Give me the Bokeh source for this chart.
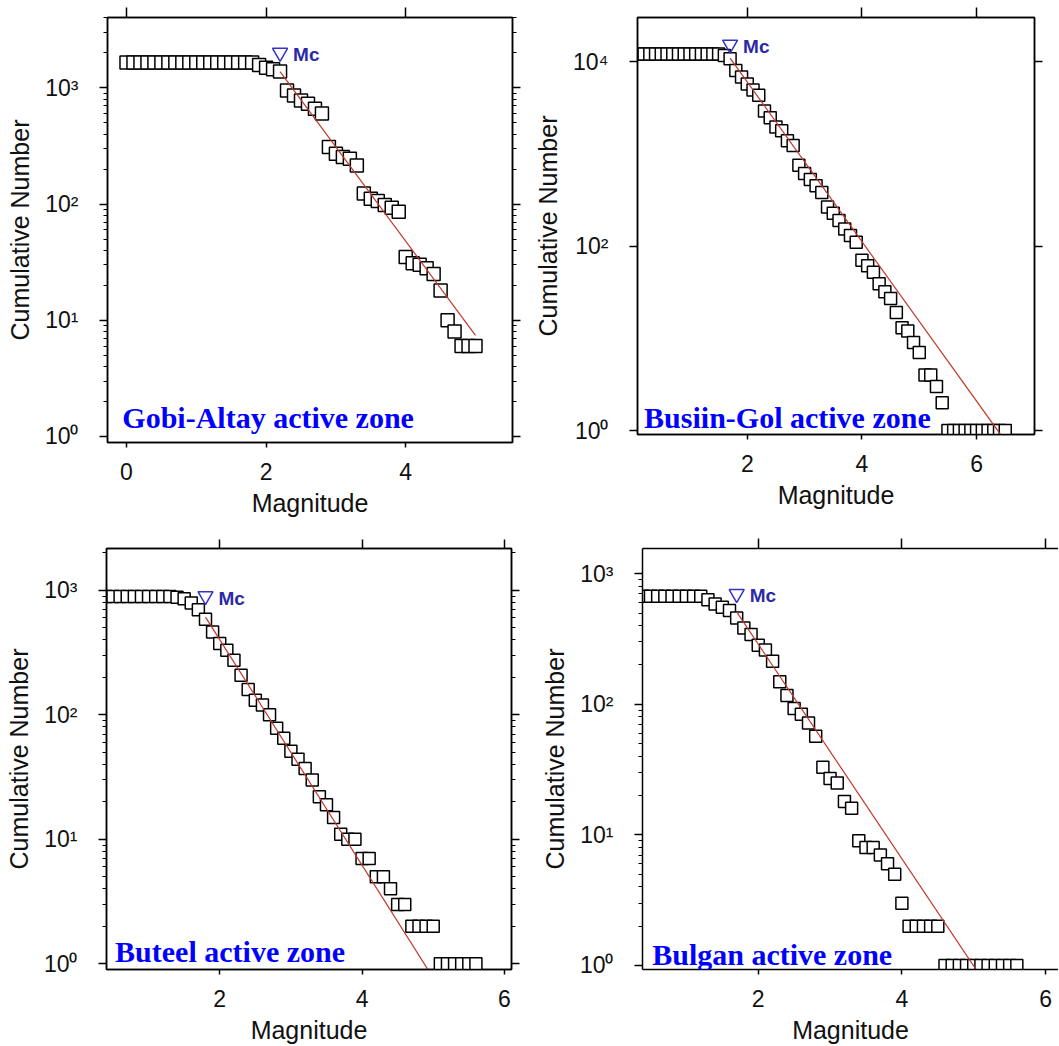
from bokeh.plotting import figure
from bokeh.models import Range1d, FixedTicker, LinearAxis, LogAxis, Label, CustomJSTickFormatter
from bokeh.layouts import column, row
from bokeh.embed import file_html
from bokeh.resources import INLINE

# ---------------- data ----------------
zone_names = ["Gobi-Altay active zone", "Busiin-Gol active zone",
              "Buteel active zone", "Bulgan active zone"]
x_label = "Magnitude"
y_label = "Cumulative Number"

mag_gobi = [0.0, 0.1, 0.2, 0.3, 0.4, 0.5, 0.6, 0.7, 0.8, 0.9, 1.0, 1.1, 1.2, 1.3, 1.4,
            1.5, 1.6, 1.7, 1.8, 1.9, 2.0, 2.1, 2.2, 2.3, 2.4, 2.5, 2.6, 2.7, 2.8, 2.9,
            3.0, 3.1, 3.2, 3.3, 3.4, 3.5, 3.6, 3.7, 3.8, 3.9, 4.0, 4.1, 4.2, 4.3, 4.4,
            4.5, 4.6, 4.7, 4.8, 4.9, 5.0]
num_gobi = [1650, 1650, 1650, 1650, 1650, 1650, 1650, 1650, 1650, 1650, 1650, 1650,
            1650, 1650, 1650, 1650, 1650, 1650, 1650, 1575, 1490, 1445, 1380, 950, 860,
            780, 730, 660, 600, 309, 271, 254, 245, 215, 123, 111, 106, 98, 93, 86, 35,
            31, 30, 28, 25, 18, 10, 8, 6, 6, 6]
mc_gobi = [2.2]
mc_mark_gobi = [2010]
fit_mag_gobi = [2.2, 5.0]
fit_num_gobi = [1380, 7.4]

mag_busiin = [0.1, 0.2, 0.3, 0.4, 0.5, 0.6, 0.7, 0.8, 0.9, 1.0, 1.1, 1.2, 1.3, 1.4, 1.5,
              1.6, 1.7, 1.8, 1.9, 2.0, 2.1, 2.2, 2.3, 2.4, 2.5, 2.6, 2.7, 2.8, 2.9, 3.0,
              3.1, 3.2, 3.3, 3.4, 3.5, 3.6, 3.7, 3.8, 3.9, 4.0, 4.1, 4.2, 4.3, 4.4, 4.5,
              4.6, 4.7, 4.8, 4.9, 5.0, 5.1, 5.2, 5.3, 5.4, 5.5, 5.6, 5.7, 5.8, 5.9, 6.0,
              6.1, 6.2, 6.3, 6.4, 6.5]
num_busiin = [12100, 12100, 12100, 12100, 12100, 12100, 12100, 12100, 12100, 12100,
              12100, 12100, 12100, 12100, 12100, 11600, 10700, 8000, 6800, 5700, 4900,
              4300, 2900, 2450, 1950, 1780, 1380, 1230, 750, 610, 525, 450, 380, 264,
              227, 189, 153, 130, 110, 70, 61, 52, 39, 32, 27, 19, 13, 12, 9, 7, 4, 4,
              3, 2, 1, 1, 1, 1, 1, 1, 1, 1, 1, 1, 1]
mc_busiin = [1.7]
mc_mark_busiin = [15300]
fit_mag_busiin = [1.7, 6.42]
fit_num_busiin = [10900, 0.9]

mag_buteel = [0.4, 0.5, 0.6, 0.7, 0.8, 0.9, 1.0, 1.1, 1.2, 1.3, 1.4, 1.5, 1.6, 1.7, 1.8,
              1.9, 2.0, 2.1, 2.2, 2.3, 2.4, 2.5, 2.6, 2.7, 2.8, 2.9, 3.0, 3.1, 3.2, 3.3,
              3.4, 3.5, 3.6, 3.7, 3.8, 3.9, 4.0, 4.1, 4.2, 4.3, 4.4, 4.5, 4.6, 4.7, 4.8,
              4.9, 5.0, 5.1, 5.2, 5.3, 5.4, 5.5, 5.6]
num_buteel = [893, 893, 893, 893, 893, 893, 893, 893, 893, 893, 880, 858, 790, 700, 585,
              464, 374, 330, 275, 208, 160, 131, 120, 100, 78, 65, 51, 44, 37, 30, 22,
              19, 15, 11, 10, 10, 7, 7, 5, 5, 4, 3, 3, 2, 2, 2, 2, 1, 1, 1, 1, 1, 1]
mc_buteel = [1.8]
mc_mark_buteel = [900]
fit_mag_buteel = [1.8, 4.93]
fit_num_buteel = [610, 0.89]

mag_bulgan = [0.4, 0.5, 0.6, 0.7, 0.8, 0.9, 1.0, 1.1, 1.2, 1.3, 1.4, 1.5, 1.6, 1.7, 1.8,
              1.9, 2.0, 2.1, 2.2, 2.3, 2.4, 2.5, 2.6, 2.7, 2.8, 2.9, 3.0, 3.1, 3.2, 3.3,
              3.4, 3.5, 3.6, 3.7, 3.8, 3.9, 4.0, 4.1, 4.2, 4.3, 4.4, 4.5, 4.6, 4.7, 4.8,
              4.9, 5.0, 5.1, 5.2, 5.3, 5.4, 5.5, 5.6]
num_bulgan = [672, 672, 672, 672, 672, 672, 672, 672, 672, 632, 586, 553, 522, 458, 384,
              342, 283, 261, 214, 149, 117, 93, 84, 72, 57, 33, 27, 25, 18, 16, 9, 8, 8,
              7, 6, 5, 3, 2, 2, 2, 2, 2, 1, 1, 1, 1, 1, 1, 1, 1, 1, 1, 1]
mc_bulgan = [1.7]
mc_mark_bulgan = [700]
fit_mag_bulgan = [1.7, 5.05]
fit_num_bulgan = [510, 0.9]

# ---------------- styling ----------------
SANS = "Liberation Sans"
SERIF = "Liberation Serif"
INK = "#111111"
RED = "#C0392B"
TRI = "#3434C4"
MC_TXT = "#2A2AA6"

sup_fmt = CustomJSTickFormatter(code="""
const sup = {'0':'\u2070','1':'\u00b9','2':'\u00b2','3':'\u00b3','4':'\u2074'};
const e = Math.round(Math.log10(tick));
return '10' + String(e).split('').map(c => sup[c]).join('');
""")


def hide_labels(ax):
    ax.major_label_text_font_size = "0px"
    ax.major_label_text_color = None
    ax.major_label_standoff = 0


def make_panel(w, h, borders, xr, yr, xticks, yticks, yminor, mags, nums, mc, mc_mark,
               fit_m, fit_n, zone, zone_xy, sq_size, top_tick, right_axis=True,
               outline=True):
    bl, br, bt, bb = borders
    p = figure(width=w, height=h, x_range=Range1d(*xr), y_range=Range1d(*yr),
               y_axis_type="log", output_backend="svg", toolbar_location=None,
               min_border_left=bl, min_border_right=br, min_border_top=bt,
               min_border_bottom=bb)
    p.xgrid.visible = False
    p.ygrid.visible = False
    p.background_fill_color = "white"
    p.border_fill_color = "white"
    p.outline_line_color = "black" if outline else None
    p.outline_line_width = 1.5

    xt = FixedTicker(ticks=xticks, minor_ticks=[])
    yt = FixedTicker(ticks=yticks, minor_ticks=yminor)

    xa = p.xaxis[0]
    xa.ticker = xt
    xa.axis_label = x_label
    xa.major_tick_out = 5
    xa.major_tick_in = 0
    xa.minor_tick_out = 0
    xa.minor_tick_in = 0
    xa.major_label_standoff = 15
    xa.axis_label_standoff = 6

    ya = p.yaxis[0]
    ya.ticker = yt
    ya.formatter = sup_fmt
    ya.axis_label = y_label
    ya.major_tick_out = 8
    ya.major_tick_in = 0
    ya.minor_tick_out = 4
    ya.minor_tick_in = 0
    ya.major_label_standoff = 21
    ya.axis_label_standoff = 8

    for ax in (xa, ya):
        ax.axis_line_color = "black"
        ax.axis_line_width = 1.5
        ax.major_tick_line_width = 1.5
        ax.minor_tick_line_width = 1.2
        ax.major_label_text_font = SANS
        ax.major_label_text_font_size = "23px"
        ax.major_label_text_color = INK
        ax.axis_label_text_font = SANS
        ax.axis_label_text_font_size = "25px"
        ax.axis_label_text_font_style = "normal"
        ax.axis_label_text_color = INK

    top = LinearAxis(ticker=FixedTicker(ticks=xticks, minor_ticks=[]))
    top.major_tick_out = top_tick
    top.major_tick_in = 0
    top.minor_tick_out = 0
    top.minor_tick_in = 0
    top.axis_line_width = 1.5
    top.major_tick_line_width = 1.5
    hide_labels(top)
    p.add_layout(top, "above")

    if right_axis:
        ra = LogAxis(ticker=FixedTicker(ticks=yticks, minor_ticks=yminor))
        ra.major_tick_out = 8
        ra.major_tick_in = 0
        ra.minor_tick_out = 4
        ra.minor_tick_in = 0
        ra.axis_line_width = 1.5
        ra.major_tick_line_width = 1.5
        ra.minor_tick_line_width = 1.2
        hide_labels(ra)
        p.add_layout(ra, "right")

    p.scatter(mags, nums, marker="square", size=sq_size, fill_color="white",
              line_color="black", line_width=1.5)
    p.line(fit_m, fit_n, line_color=RED, line_width=1.2)
    p.scatter(mc, mc_mark, marker="inverted_triangle", size=15, fill_color=None,
              line_color=TRI, line_width=1.5)
    p.add_layout(Label(x=mc[0], y=mc_mark[0], text="Mc", x_offset=13, y_offset=-2,
                       text_baseline="middle", text_font=SANS, text_font_style="bold",
                       text_font_size="19px", text_color=MC_TXT))
    p.add_layout(Label(x=zone_xy[0], y=zone_xy[1], text=zone, text_baseline="alphabetic",
                       text_font=SERIF, text_font_style="bold", text_font_size="30px",
                       text_color="#0000FF"))
    return p


def minors(top):
    return [m * 10 ** k for k in range(0, 5) for m in range(2, 10) if m * 10 ** k < top]


p1 = make_panel(530, 532, (107, 18, 17, 90), (-0.272, 5.53), (0.887, 4030),
                [0, 2, 4], [1, 10, 100, 1000], minors(4030),
                mag_gobi, num_gobi, mc_gobi, mc_mark_gobi, fit_mag_gobi, fit_num_gobi,
                zone_names[0], (-0.06, 1.45), 13, 10)
p2 = make_panel(528, 524, (107, 24, 17, 90), (0.085, 7.01), (0.905, 30000),
                [2, 4, 6], [1, 100, 10000], [],
                mag_busiin, num_busiin, mc_busiin, mc_mark_busiin, fit_mag_busiin,
                fit_num_busiin, zone_names[1], (0.2, 1.38), 12, 10)
p3 = make_panel(530, 514, (106, 19, 16, 76), (0.409, 6.10), (0.90, 2170),
                [2, 4, 6], [1, 10, 100, 1000], minors(2170),
                mag_buteel, num_buteel, mc_buteel, mc_mark_buteel, fit_mag_buteel,
                fit_num_buteel, zone_names[2], (0.53, 1.26), 12, 9)
p4 = make_panel(528, 514, (112, 0, 16, 76), (0.389, 6.18), (0.931, 1560),
                [2, 4, 6], [1, 10, 100, 1000], minors(1560),
                mag_bulgan, num_bulgan, mc_bulgan, mc_mark_bulgan, fit_mag_bulgan,
                fit_num_bulgan, zone_names[3], (0.524, 1.21), 12, 10,
                right_axis=False, outline=False)

layout = column(row(p1, p2), row(p3, p4))

open("out.html", "w").write(file_html(layout, INLINE))
